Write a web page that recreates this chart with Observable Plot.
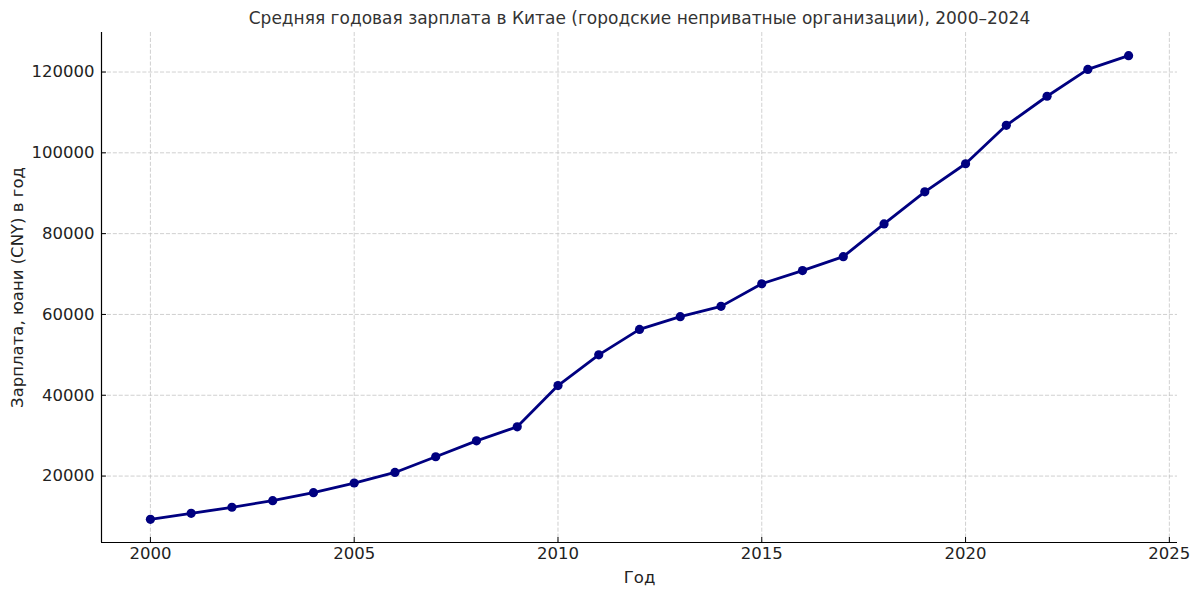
<!DOCTYPE html>
<html><head><meta charset="utf-8">
<script src="https://cdn.jsdelivr.net/npm/d3@7"></script>
<script src="https://cdn.jsdelivr.net/npm/@observablehq/plot@0.6"></script>
<style>body{margin:0;background:#fff;} svg, svg text{font-family:"DejaVu Sans",sans-serif !important;}</style>
</head><body><div id="chart"></div>
<script>
const years = [2000,2001,2002,2003,2004,2005,2006,2007,2008,2009,2010,2011,2012,2013,2014,2015,2016,2017,2018,2019,2020,2021,2022,2023,2024];
const salaries = [9300,10780,12280,13920,15900,18280,20900,24780,28720,32200,42400,50000,56300,59450,62000,67600,70850,74300,82400,90350,97300,106800,114000,120650,124050];
const xTicks = [2000,2005,2010,2015,2020,2025];
const yTicks = [20000,40000,60000,80000,100000,120000];
const title = "Средняя годовая зарплата в Китае (городские неприватные организации), 2000–2024";
const xLabel = "Год";
const yLabel = "Зарплата, юани (CNY) в год";

const data = years.map((y,i)=>({year:y, salary:salaries[i]}));
const xDomain = [1998.8, 2025.2];
const yDomain = [3560, 129780];
const FF = '"DejaVu Sans", sans-serif';
const W = 1200, H = 596, mT = 32, mB = 54, mL = 101, mR = 23;

const plot = Plot.plot({
  width: W, height: H,
  marginTop: mT, marginBottom: mB, marginLeft: mL, marginRight: mR,
  style: {fontFamily: FF, fontSize: "16.5px", color: "#222", background: "#fff"},
  x: {domain: xDomain, axis: null},
  y: {domain: yDomain, axis: null},
  marks: [
    Plot.gridX(xTicks, {stroke: "#c4c4c4", strokeOpacity: 0.8, strokeDasharray: "4.1,1.8", strokeWidth: 1}),
    Plot.gridY(yTicks, {stroke: "#c4c4c4", strokeOpacity: 0.8, strokeDasharray: "4.1,1.8", strokeWidth: 1}),
    Plot.tickX(xTicks, {x: d=>d, insetTop: (H - mT - mB) - 5, stroke: "#000", strokeWidth: 1}),
    Plot.tickY(yTicks, {y: d=>d, insetRight: (W - mL - mR) - 5, stroke: "#000", strokeWidth: 1}),
    Plot.text(xTicks, {x: d=>d, frameAnchor: "bottom", lineAnchor: "middle", dy: 11, fontSize: 16.5, fill: "#222", fontFamily: FF, text: d=>String(d)}),
    Plot.text(yTicks, {y: d=>d, frameAnchor: "left", textAnchor: "end", lineAnchor: "middle", dx: -7, fontSize: 16.5, fill: "#222", fontFamily: FF, text: d=>String(d)}),
    Plot.ruleX([xDomain[0]], {stroke: "#000", strokeWidth: 1.2}),
    Plot.ruleY([yDomain[0]], {stroke: "#000", strokeWidth: 1.2}),
    Plot.line(data, {x: "year", y: "salary", stroke: "#000080", strokeWidth: 2.8}),
    Plot.dot(data, {x: "year", y: "salary", fill: "#000080", r: 4.6, stroke: null}),
    Plot.text([title], {frameAnchor: "top", lineAnchor: "middle", dy: -14, fontSize: 17, fill: "#333", fontFamily: FF, text: d=>d}),
    Plot.text([xLabel], {frameAnchor: "bottom", lineAnchor: "middle", dy: 35, fontSize: 16.5, fill: "#222", fontFamily: FF, text: d=>d}),
    Plot.text([yLabel], {frameAnchor: "left", textAnchor: "middle", lineAnchor: "middle", dx: -84, rotate: -90, fontSize: 16.5, fill: "#222", fontFamily: FF, text: d=>d})
  ]
});
document.getElementById("chart").appendChild(plot);
</script></body></html>
